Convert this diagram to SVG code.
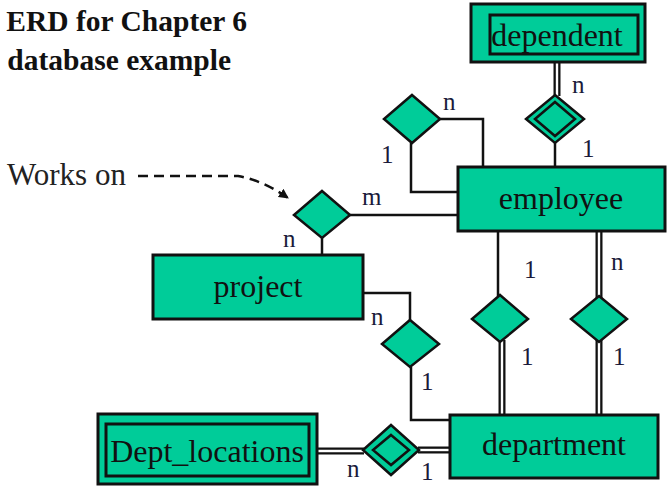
<svg xmlns="http://www.w3.org/2000/svg" width="667" height="487" viewBox="0 0 667 487" font-family="Liberation Serif, Times New Roman, Times, serif">
  <style>
    .ent { fill: #00CC99; stroke: #111; stroke-width: 3; }
    .rel { fill: #00CC99; stroke: #111; stroke-width: 2.5; stroke-linejoin: miter; }
    .line { fill: none; stroke: #111; stroke-width: 2.5; }
    .dbl-outer { fill: none; stroke: #111; stroke-width: 7; }
    .dbl-inner { fill: none; stroke: #fff; stroke-width: 2.4; }
    .label { font-size: 32px; fill: #111; text-anchor: middle; }
    .card { font-size: 25px; fill: #1a1a3a; }
    .title { font-size: 29.5px; font-weight: bold; fill: #111; text-anchor: end; }
    .note { font-size: 31px; fill: #222; }
  </style>
  <defs>
    <marker id="arrow" viewBox="0 0 10 10" refX="9" refY="5" markerWidth="4" markerHeight="4" orient="auto">
      <path d="M0,0 L10,5 L0,10 z" fill="#111"/>
    </marker>
  </defs>

  <rect width="667" height="487" fill="#fff"/>

  <!-- title -->
  <text class="title" x="247" y="31">ERD for Chapter 6</text>
  <text class="title" x="231" y="70">database example</text>

  <!-- callout -->
  <g id="note-works-on">
    <text class="note" x="7" y="185">Works on</text>
    <path d="M138,176 L238,176 Q262,180 288,198" fill="none" stroke="#111" stroke-width="2.5" stroke-dasharray="10,6" marker-end="url(#arrow)"/>
  </g>

  <!-- connectors -->
  <g id="connectors">
    <!-- dependent == weak relationship -->
    <path class="dbl-outer" d="M557,62 V96"/>
    <path class="dbl-inner" d="M557,62 V96"/>
    <path class="line" d="M555,143 V167"/>
    <!-- supervision -->
    <path class="line" d="M440,119 H483 V167"/>
    <path class="line" d="M411,143 V192 H458"/>
    <!-- works on -->
    <path class="line" d="M350,215 H458"/>
    <path class="line" d="M322,238 V255"/>
    <!-- controls -->
    <path class="line" d="M363,293 H410 V321"/>
    <path class="line" d="M411,367 V420 H450"/>
    <!-- manages -->
    <path class="line" d="M498,231 V296"/>
    <path class="dbl-outer" d="M502,340 V415"/>
    <path class="dbl-inner" d="M502,340 V415"/>
    <!-- works for -->
    <path class="dbl-outer" d="M599,231 V298"/>
    <path class="dbl-inner" d="M599,231 V298"/>
    <path class="dbl-outer" d="M599,340 V415"/>
    <path class="dbl-inner" d="M599,340 V415"/>
    <!-- dept locations -->
    <path class="dbl-outer" d="M317,451 H364"/>
    <path class="dbl-inner" d="M317,451 H364"/>
    <path class="dbl-outer" d="M418,450 H450"/>
    <path class="dbl-inner" d="M418,450 H450"/>
  </g>

  <!-- entities -->
  <g id="dependent">
    <rect class="ent" x="471" y="4" width="174" height="58"/>
    <rect class="ent" x="490" y="15" width="148" height="39"/>
    <text class="label" x="557" y="46">dependent</text>
  </g>
  <g id="employee">
    <rect class="ent" x="458" y="167" width="207" height="64"/>
    <text class="label" x="561" y="209">employee</text>
  </g>
  <g id="project">
    <rect class="ent" x="153" y="255" width="210" height="64"/>
    <text class="label" x="258" y="297">project</text>
  </g>
  <g id="department">
    <rect class="ent" x="450" y="415" width="208" height="63"/>
    <text class="label" x="554" y="455">department</text>
  </g>
  <g id="dept_locations">
    <rect class="ent" x="98" y="414" width="219" height="70"/>
    <rect class="ent" x="106" y="424" width="203" height="52"/>
    <text class="label" x="207" y="462">Dept_locations</text>
  </g>

  <!-- relationships -->
  <g id="rel-dependents-of">
    <polygon class="rel" points="555,95 584,119 555,143 526,119"/>
    <polygon class="rel" points="555,102 575,119 555,136 535,119"/>
  </g>
  <g id="rel-supervision">
    <polygon class="rel" points="412,95 440,119 412,143 384,119"/>
  </g>
  <g id="rel-works-on">
    <polygon class="rel" points="322,191 350,215 322,238 294,215"/>
  </g>
  <g id="rel-controls">
    <polygon class="rel" points="410,320 439,344 410,367 382,344"/>
  </g>
  <g id="rel-manages">
    <polygon class="rel" points="500,295 528,319 500,342 472,319"/>
  </g>
  <g id="rel-works-for">
    <polygon class="rel" points="599,296 627,319 599,342 571,319"/>
  </g>
  <g id="rel-dept-locations">
    <polygon class="rel" points="391,425 419,450 391,475 363,450"/>
    <polygon class="rel" points="391,435 409,450 391,465 373,450"/>
  </g>

  <!-- cardinalities -->
  <g id="cardinalities">
    <text class="card" x="572" y="93">n</text>
    <text class="card" x="582" y="157">1</text>
    <text class="card" x="443" y="110">n</text>
    <text class="card" x="381" y="163">1</text>
    <text class="card" x="362" y="205">m</text>
    <text class="card" x="283" y="247">n</text>
    <text class="card" x="371" y="325">n</text>
    <text class="card" x="421" y="390">1</text>
    <text class="card" x="524" y="278">1</text>
    <text class="card" x="521" y="365">1</text>
    <text class="card" x="611" y="270">n</text>
    <text class="card" x="613" y="365">1</text>
    <text class="card" x="347" y="477">n</text>
    <text class="card" x="421" y="480">1</text>
  </g>
</svg>
